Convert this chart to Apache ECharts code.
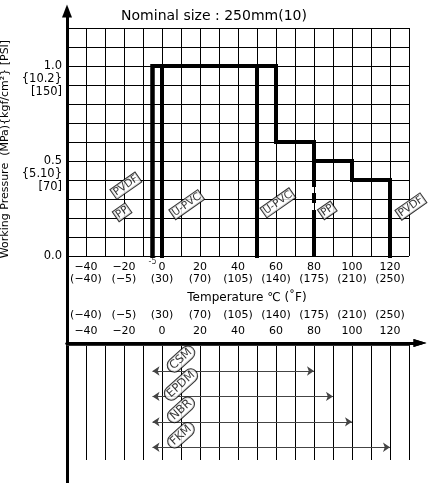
<!DOCTYPE html>
<html><head><meta charset="utf-8">
<script src="https://cdn.jsdelivr.net/npm/echarts@6/dist/echarts.min.js"></script>
<style>html,body{margin:0;padding:0;background:#fff}#c{width:428px;height:483px}</style>
</head><body><div id="c"></div>
<script>
// ---------- data ----------
const titleText = 'Nominal size : 250mm(10)';
const xMin = -50, xMax = 130, xStep = 10;
const tempC = [-40, -20, 0, 20, 40, 60, 80, 100, 120];
const tempCLabels = ['−40', '−20', '0', '20', '40', '60', '80', '100', '120'];
const tempFLabels = ['(−40)', '(−5)', '(30)', '(70)', '(105)', '(140)', '(175)', '(210)', '(250)'];
const yMin = 0, yMax = 1.2, yStep = 0.1;
const pressureTicks = [0, 0.5, 1.0];
const pressureLabels = [['0.0'], ['0.5', '{5.10}', '[70]'], ['1.0', '{10.2}', '[150]']];
const pvdf = [[-5, 0], [-5, 1.0], [60, 1.0], [60, 0.6], [80, 0.6], [80, 0.5], [100, 0.5], [100, 0.4], [120, 0.4], [120, 0]];
const pp = [[-5, 0], [-5, 1.0], [60, 1.0], [60, 0.6], [80, 0.6]];
const ppTail = [[80, 0.6], [80, 0]];
const upvc = [[0, 0], [0, 1.0], [50, 1.0], [50, 0]];
const pipeLabelText = ['PVDF', 'PP', 'U-PVC', 'U-PVC', 'PP', 'PVDF'];
const pipeLabelAt = [[-19, 0.37], [-21, 0.23], [13, 0.27], [61, 0.28], [87, 0.24], [131, 0.26]];
const minTempMark = [[-5, 0, '-5']];
const rubbers = ['CSM', 'EPDM', 'NBR', 'FKM'];
const rubberMin = [-5, -5, -5, -5];
const rubberMax = [80, 90, 100, 120];
const rubberLabelX = 10;

// ---------- chart ----------
const FONT = 'DejaVu Sans';
const chart = echarts.init(document.getElementById('c'), null, {renderer: 'canvas'});
const idx = v => tempC.indexOf(Math.round(v));
const hid = {axisLine: {show: false}, axisTick: {show: false}, axisLabel: {show: false}, splitLine: {show: false}};
const thinBlack = {color: '#000', width: 1};
const G = {outerBoundsMode: 'none', containLabel: false};

const option = {
  animation: false,
  title: {text: titleText, left: 'center', top: 4,
    textStyle: {fontFamily: FONT, fontSize: 14, fontWeight: 'normal', color: '#000'}},
  grid: [
    Object.assign({left: 67, top: 28, width: 342, height: 228}, G),
    Object.assign({left: 67, top: 343, width: 342, height: 117}, G),
    Object.assign({left: 67, top: 256, width: 353, height: 87}, G),
    Object.assign({left: 67, top: 11, width: 10, height: 480}, G)
  ],
  xAxis: [
    {gridIndex: 0, type: 'value', min: xMin, max: xMax, interval: xStep, position: 'bottom',
      axisLine: {show: false}, axisTick: {show: false},
      splitLine: {show: true, lineStyle: thinBlack},
      axisLabel: {margin: 5, fontSize: 11, lineHeight: 12, fontFamily: FONT, color: '#000',
        showMinLabel: true, showMaxLabel: true,
        formatter: v => { const i = idx(v); return i >= 0 ? tempCLabels[i] + '\n' + tempFLabels[i] : ''; }},
      name: 'Temperature ℃ (˚F)', nameLocation: 'middle', nameGap: 36,
      nameTextStyle: {fontFamily: FONT, fontSize: 12, color: '#000', padding: [0, 0, 0, 18]}},
    {gridIndex: 1, type: 'value', min: xMin, max: xMax, interval: xStep, position: 'bottom',
      axisLine: {show: true, lineStyle: {color: '#333', width: 1}}, axisTick: {show: false},
      splitLine: {show: true, lineStyle: thinBlack}, axisLabel: {show: false}},
    {gridIndex: 1, type: 'value', min: xMin, max: xMax, interval: xStep, position: 'top',
      axisLine: {show: false}, axisTick: {show: false}, splitLine: {show: false},
      axisLabel: {margin: 4, fontSize: 11, lineHeight: 16, fontFamily: FONT, color: '#000',
        showMinLabel: true, showMaxLabel: true,
        formatter: v => { const i = idx(v); return i >= 0 ? tempFLabels[i] + '\n' + tempCLabels[i] : ''; }}},
    {gridIndex: 2, type: 'value', min: 0, max: 1, position: 'top',
      axisLine: {show: true, symbol: ['none', 'triangle'], symbolSize: [8, 13], lineStyle: {color: '#000', width: 3}},
      axisTick: {show: false}, axisLabel: {show: false}, splitLine: {show: false}},
    {gridIndex: 2, type: 'value', min: 0, max: 1, position: 'bottom',
      axisLine: {show: true, symbol: ['none', 'triangle'], symbolSize: [8, 13], lineStyle: {color: '#000', width: 3}},
      axisTick: {show: false}, axisLabel: {show: false}, splitLine: {show: false}},
    Object.assign({gridIndex: 3, type: 'value', min: 0, max: 1}, hid)
  ],
  yAxis: [
    {gridIndex: 0, type: 'value', min: yMin, max: yMax, interval: yStep,
      axisLine: {show: false}, axisTick: {show: false},
      splitLine: {show: true, lineStyle: thinBlack},
      axisLabel: {margin: 5, fontSize: 11.5, lineHeight: 13, fontFamily: FONT, color: '#000', align: 'right',
        showMinLabel: true, showMaxLabel: true,
        formatter: v => {
          for (let k = 0; k < pressureTicks.length; k++) {
            if (Math.abs(v - pressureTicks[k]) < 1e-6) {
              const L = pressureLabels[k];
              const pad = new Array(L.length - 1).fill('').join('\n');
              return (L.length > 1 ? pad + '\n' : '') + L.join('\n');
            }
          }
          return '';
        }},
      name: 'Working Pressure  (MPa){kgf/cm²} [PSI]', nameLocation: 'middle', nameGap: 54, nameRotate: 90,
      nameTextStyle: {fontFamily: FONT, fontSize: 11, color: '#000', padding: [0, 14, 0, 0]}},
    Object.assign({gridIndex: 1, type: 'value', min: -0.1, max: 4.5, inverse: true}, hid),
    Object.assign({gridIndex: 2, type: 'value', min: 0, max: 1}, hid),
    {gridIndex: 3, type: 'value', min: 0, max: 1,
      axisLine: {show: true, symbol: ['none', 'triangle'], symbolSize: [10, 13], lineStyle: {color: '#000', width: 3}},
      axisTick: {show: false}, axisLabel: {show: false}, splitLine: {show: false}}
  ],
  series: [
    {name: 'U-PVC', type: 'line', xAxisIndex: 0, yAxisIndex: 0, data: upvc, symbol: 'none', z: 5,
      lineStyle: {color: '#000', width: 4, cap: 'square', join: 'miter'}},
    {name: 'PP', type: 'line', xAxisIndex: 0, yAxisIndex: 0, data: pp, symbol: 'none', z: 5,
      lineStyle: {color: '#000', width: 4, cap: 'square', join: 'miter'}},
    {name: 'PP tail', type: 'line', xAxisIndex: 0, yAxisIndex: 0, data: ppTail, symbol: 'none', z: 5,
      lineStyle: {color: '#000', width: 4, type: [45, 6, 10, 7, 80]}},
    {name: 'PVDF', type: 'line', xAxisIndex: 0, yAxisIndex: 0, data: pvdf, symbol: 'none', z: 5,
      lineStyle: {color: '#000', width: 4, cap: 'square', join: 'miter'}},
    {type: 'scatter', xAxisIndex: 0, yAxisIndex: 0, clip: false, symbolSize: 1, z: 6,
      itemStyle: {color: 'rgba(0,0,0,0)'},
      data: pipeLabelAt.map((p, i) => [p[0], p[1], pipeLabelText[i]]),
      label: {show: true, position: 'inside', rotate: 35, formatter: p => p.data[2],
        fontFamily: FONT, fontSize: 10.5, color: '#000', backgroundColor: '#fff',
        borderColor: '#000', borderWidth: 1, padding: [0, 1, -1, 1], lineHeight: 12}},
    {type: 'scatter', xAxisIndex: 0, yAxisIndex: 0, clip: false, symbolSize: 1, z: 6,
      itemStyle: {color: 'rgba(0,0,0,0)'}, data: minTempMark,
      label: {show: true, position: 'bottom', distance: 1, formatter: p => p.data[2],
        fontFamily: FONT, fontSize: 8, color: '#000'}},
    {type: 'lines', coordinateSystem: 'cartesian2d', xAxisIndex: 1, yAxisIndex: 1, z: 4,
      symbol: ['arrow', 'arrow'], symbolSize: 7,
      lineStyle: {color: '#444', width: 1, opacity: 1},
      data: rubbers.map((r, i) => ({coords: [[rubberMin[i], i + 1], [rubberMax[i], i + 1]]}))},
    {type: 'scatter', xAxisIndex: 1, yAxisIndex: 1, clip: false, symbolSize: 1, z: 6,
      itemStyle: {color: 'rgba(0,0,0,0)'},
      data: rubbers.map((r, i) => [rubberLabelX, i + 1 - 0.47, r]),
      label: {show: true, position: 'inside', rotate: 42, formatter: p => p.data[2],
        fontFamily: FONT, fontSize: 11.5, color: '#000', backgroundColor: '#fff',
        borderColor: '#000', borderWidth: 1, borderRadius: 10, padding: [1, 3, 0, 3]}}
  ]
};
chart.setOption(option);
</script>
</body></html>
